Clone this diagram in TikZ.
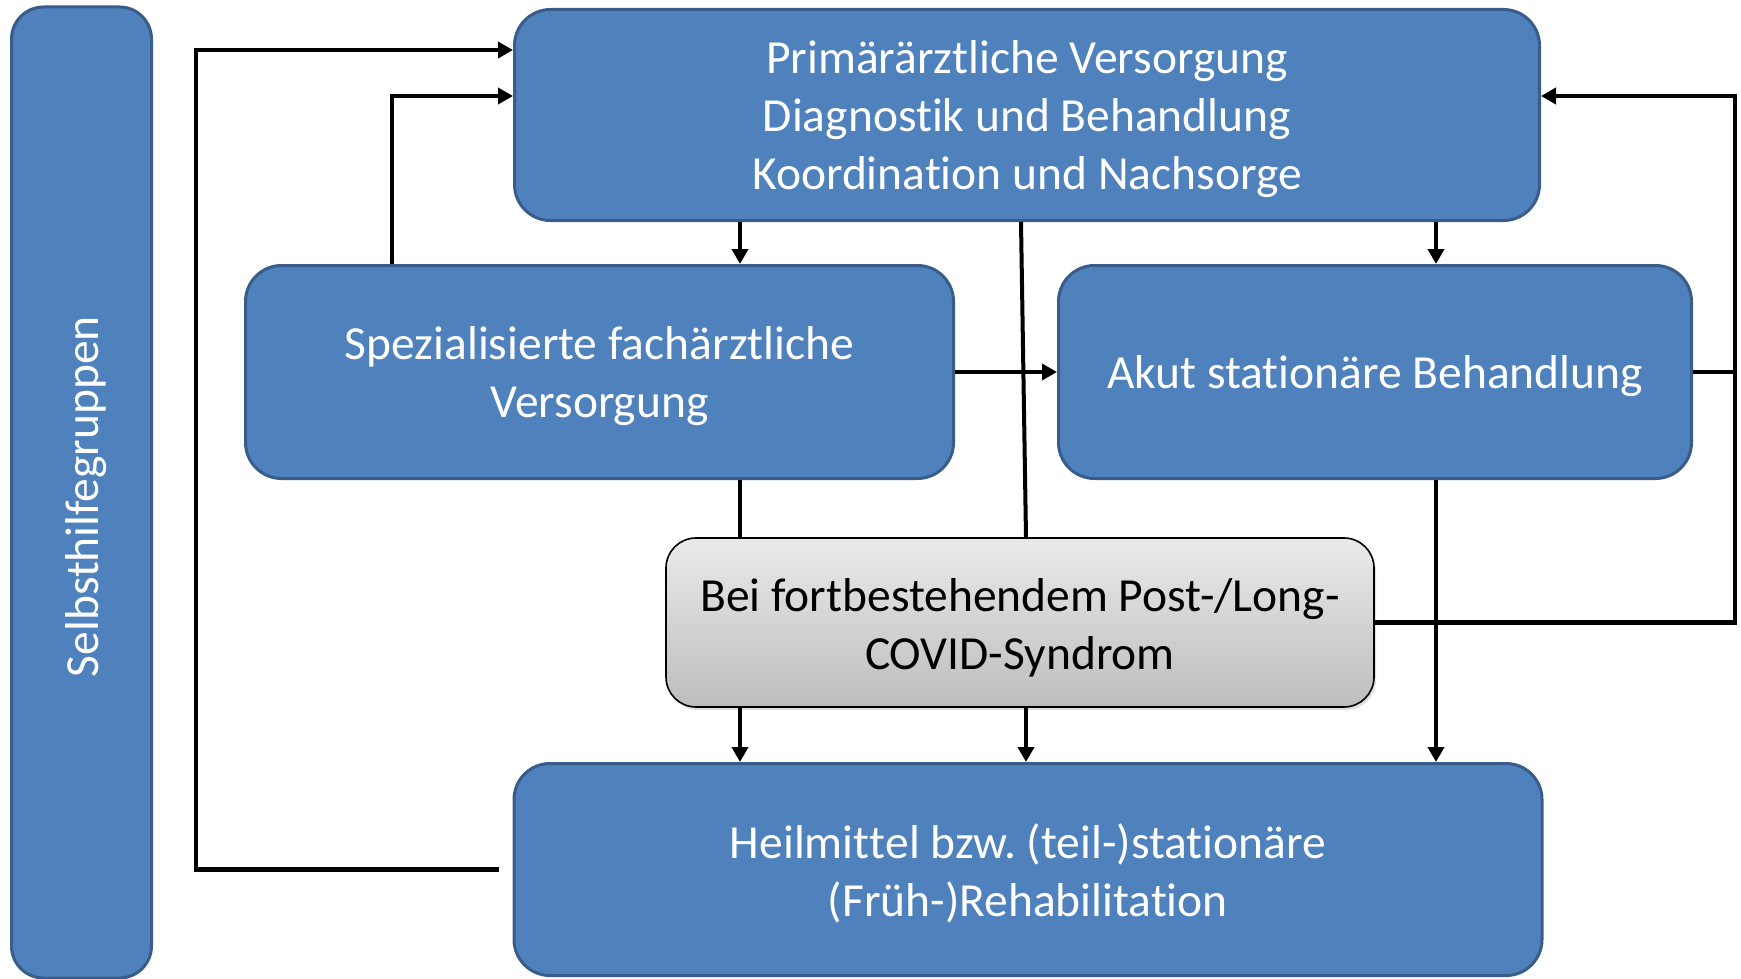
\documentclass[tikz,border=0pt]{standalone}
\usepackage{fontspec}
\setmainfont{Carlito}[Ligatures={NoCommon,NoRare,NoContextual}]
\usetikzlibrary{arrows.meta,shadows}
\definecolor{boxblue}{HTML}{4F81BD}
\definecolor{boxedge}{HTML}{385D8A}
\definecolor{graytop}{HTML}{EAEAEA}
\definecolor{graybot}{HTML}{BDBDBD}
\newcommand{\nl}{\kern0pt }
\frenchspacing
\tikzset{
  txt/.style={align=center, inner sep=0pt, font=\fontsize{47.5}{58}\selectfont},
  whitetxt/.style={txt, text=white},
  blacktxt/.style={txt, text=black},
  bluebox/.style={draw=boxedge, line width=3pt, fill=boxblue, rounded corners=36pt, inner sep=0pt},
  graybox/.style={draw=black, line width=1.6pt, top color=graytop, bottom color=graybot,
    rounded corners=30pt, inner sep=0pt,
    drop shadow={opacity=0.25, shadow xshift=2pt, shadow yshift=-3pt}},
  conn/.style={draw=black, line width=4.4pt},
  arr/.style={conn, -{Triangle[length=15pt,width=16pt]}}
}
\begin{document}
\begin{tikzpicture}[x=1pt,y=-1pt]
\useasboundingbox (0,0) rectangle (1741,979);
% boxes
\node[bluebox, minimum width=140pt, minimum height=971pt, rounded corners=32pt] (selbst) at (81.5,492.5) {};
\node[bluebox, minimum width=1025pt, minimum height=211pt] (prim) at (1027,115) {};
\node[bluebox, minimum width=708pt, minimum height=213pt] (spez) at (599.5,372) {};
\node[bluebox, minimum width=633pt, minimum height=213pt] (akut) at (1375,372) {};
\node[graybox, minimum width=708pt, minimum height=169pt] (bei) at (1020,622.5) {};
\node[bluebox, minimum width=1028pt, minimum height=212pt] (heil) at (1028,869.5) {};
% texts
\node[whitetxt, rotate=90] (selbsttxt) at ([xshift=5pt,yshift=-4pt]selbst.center) {Selbsthilfegruppen};
\node[whitetxt] (primtxt) at ([yshift=-4.5pt]prim.center)
  {Primärärztliche Versorgung\\Diagnost\nl ik und Behandlung\\Koordinat\nl ion und Nachsorge};
\node[whitetxt] (speztxt) at ([yshift=-4.5pt]spez.center) {Spezialisierte fachärzt\nl liche\\Versorgung};
\node[whitetxt] (akuttxt) at ([yshift=-4pt]akut.center) {Akut stat\nl ionäre Behandlung};
\node[blacktxt] (beitxt) at ([yshift=-5pt]bei.center) {Bei fortbestehendem Post-/Long-\\COVID-Syndrom};
\node[whitetxt] (heiltxt) at ([yshift=-4pt]heil.center) {Heilmit\nl t\nl el bzw. (teil-)stat\nl ionäre\\(Früh-)Rehabilitat\nl ion};
% helper coordinates
\coordinate (lx) at (196,0);
\coordinate (sx) at (392,0);
\coordinate (c1) at (740,0);
\coordinate (c2a) at (1021,0);
\coordinate (c2b) at (1026,0);
\coordinate (c3) at (1436,0);
\coordinate (rx) at (1735,0);
\coordinate (hl) at ([xshift=-14pt]heil.west);
\coordinate (pin1) at ([yshift=-42pt]prim.north west);
\coordinate (pin2) at ([yshift=-88pt]prim.north west);
% connectors
\draw[arr] (hl) -- (hl -| lx) |- (pin1);
\draw[arr] (spez.north -| sx) |- (pin2);
\draw[arr] (prim.south -| c1) -- (spez.north -| c1);
\draw[arr] (prim.south -| c3) -- (akut.north -| c3);
\draw[conn, line width=4pt] (prim.south -| c2a) -- (bei.north -| c2b);
\draw[arr] (spez.east) -- (akut.west);
\draw[conn] (spez.south -| c1) -- (bei.north -| c1);
\draw[arr] (bei.south -| c1) -- (heil.north -| c1);
\draw[arr] (bei.south -| c2b) -- (heil.north -| c2b);
\draw[arr] (akut.south -| c3) -- (heil.north -| c3);
\draw[arr] (bei.east) -- (bei.east -| rx) |- (prim.east |- pin2);
\draw[conn] (akut.east) -- (akut.east -| rx);
\end{tikzpicture}
\end{document}
